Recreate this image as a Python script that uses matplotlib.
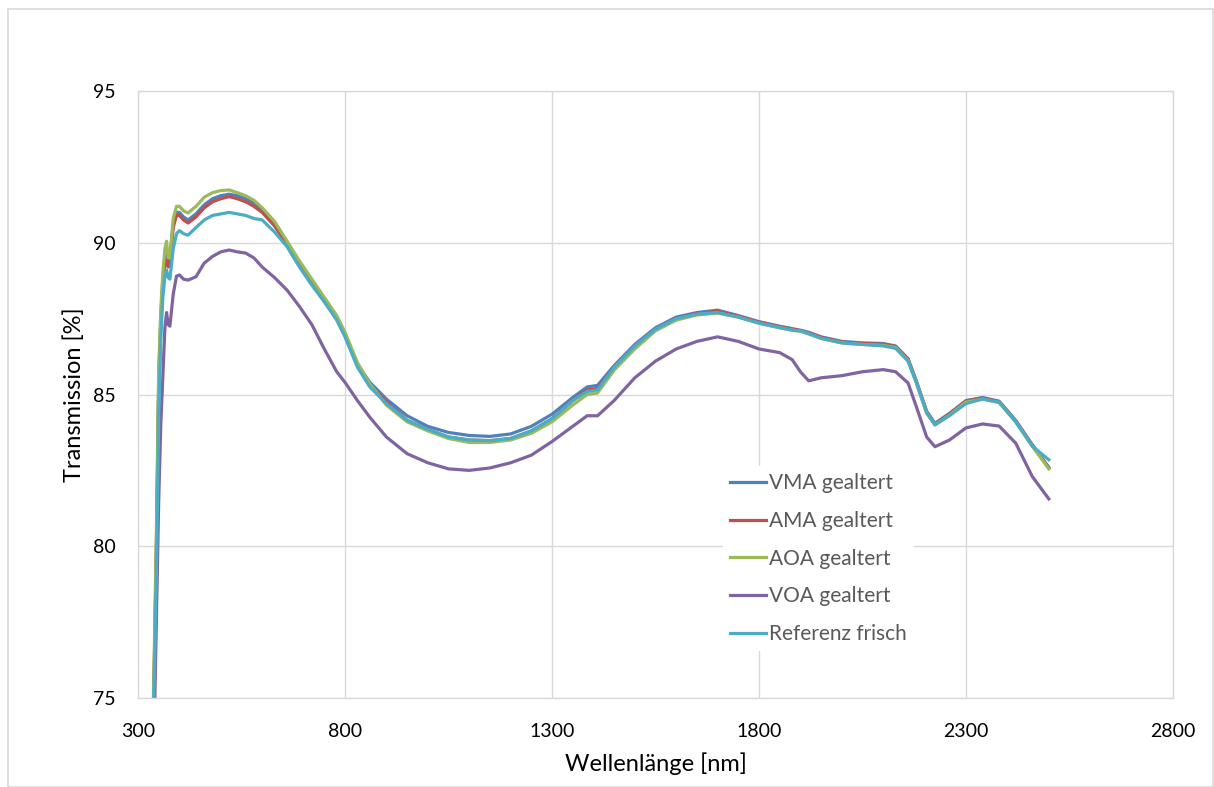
import matplotlib
matplotlib.use("Agg")
import matplotlib.pyplot as plt
from matplotlib.patches import Rectangle

wavelength = [335, 340, 345, 350, 355, 360, 365, 369, 373, 377, 385, 393, 400, 410, 421,
              440, 460, 480, 500, 520, 540, 560, 580, 600, 630, 660, 690, 720, 750, 780,
              800, 830, 860, 900, 950, 1000, 1050, 1100, 1150, 1200, 1250, 1300, 1350,
              1385, 1410, 1450, 1500, 1550, 1600, 1650, 1700, 1750, 1800, 1850, 1880,
              1900, 1920, 1950, 2000, 2050, 2100, 2130, 2160, 2180, 2205, 2225, 2260,
              2300, 2340, 2380, 2420, 2460, 2500]

vma = [73.0, 76.5, 80.5, 85.5, 87.5, 88.8, 89.6, 89.8, 89.4, 89.5, 90.6, 91.0, 91.0, 90.85, 90.75,
       90.95, 91.25, 91.45, 91.55, 91.6, 91.55, 91.45, 91.3, 91.1, 90.65, 90.0, 89.35, 88.75, 88.15, 87.55,
       87.0, 86.0, 85.4, 84.85, 84.3, 83.95, 83.75, 83.65, 83.62, 83.7, 83.95, 84.35, 84.9,
       85.25, 85.3, 85.95, 86.65, 87.2, 87.55, 87.7, 87.78, 87.6, 87.4, 87.25, 87.17,
       87.12, 87.05, 86.9, 86.75, 86.7, 86.68, 86.6, 86.18, 85.45, 84.45, 84.05, 84.38,
       84.8, 84.9, 84.78, 84.15, 83.35, 82.6]

ama = [73.0, 76.5, 80.3, 85.3, 87.3, 88.6, 89.3, 89.45, 89.2, 89.3, 90.5, 90.9, 90.9, 90.75, 90.65,
       90.85, 91.15, 91.35, 91.45, 91.52, 91.45, 91.35, 91.2, 91.0, 90.55, 89.95, 89.3, 88.7, 88.1, 87.5,
       86.95, 85.95, 85.3, 84.75, 84.15, 83.85, 83.6, 83.5, 83.48, 83.55, 83.8, 84.2, 84.8,
       85.15, 85.2, 85.9, 86.6, 87.15, 87.5, 87.67, 87.74, 87.58, 87.38, 87.23, 87.15,
       87.1, 87.03, 86.88, 86.73, 86.68, 86.66, 86.58, 86.16, 85.42, 84.42, 84.02, 84.35,
       84.78, 84.88, 84.76, 84.12, 83.32, 82.58]

aoa = [73.5, 77.0, 81.0, 85.8, 87.8, 89.0, 89.8, 90.05, 89.5, 89.5, 90.8, 91.2, 91.2, 91.05, 90.98,
       91.2, 91.5, 91.65, 91.72, 91.74, 91.65, 91.55, 91.4, 91.15, 90.7, 90.05, 89.4, 88.8, 88.2, 87.6,
       87.05, 86.05, 85.35, 84.65, 84.1, 83.8, 83.55, 83.42, 83.42, 83.5, 83.72, 84.1, 84.65,
       85.0, 85.05, 85.8, 86.5, 87.1, 87.45, 87.62, 87.68, 87.55, 87.35, 87.2, 87.12,
       87.08, 87.0, 86.85, 86.7, 86.65, 86.62, 86.55, 86.12, 85.38, 84.38, 84.0, 84.32,
       84.75, 84.85, 84.73, 84.1, 83.3, 82.55]

voa = [72.0, 74.5, 78.0, 81.5, 84.0, 85.6, 87.2, 87.7, 87.3, 87.25, 88.3, 88.9, 88.94, 88.8, 88.77,
       88.88, 89.33, 89.55, 89.7, 89.76, 89.7, 89.66, 89.5, 89.2, 88.85, 88.44, 87.9, 87.3, 86.5, 85.75,
       85.4, 84.8, 84.25, 83.6, 83.05, 82.75, 82.55, 82.5, 82.58, 82.75, 83.0, 83.45, 83.95,
       84.3, 84.3, 84.8, 85.55, 86.1, 86.5, 86.75, 86.9, 86.75, 86.5, 86.38, 86.15,
       85.75, 85.45, 85.55, 85.62, 85.75, 85.82, 85.75, 85.38, 84.6, 83.6, 83.28, 83.5,
       83.9, 84.03, 83.96, 83.4, 82.3, 81.56]

referenz = [73.5, 76.0, 79.5, 84.3, 86.8, 88.2, 88.9, 89.1, 88.85, 88.8, 89.8, 90.3, 90.4, 90.3, 90.25,
            90.5, 90.75, 90.9, 90.95, 91.0, 90.95, 90.9, 90.8, 90.75, 90.35, 89.87, 89.2, 88.6, 88.05, 87.45,
            86.9, 85.9, 85.25, 84.7, 84.15, 83.85, 83.6, 83.5, 83.48, 83.55, 83.8, 84.2, 84.8,
            85.1, 85.15, 85.9, 86.6, 87.15, 87.5, 87.65, 87.7, 87.55, 87.35, 87.2, 87.12,
            87.1, 87.0, 86.85, 86.7, 86.65, 86.6, 86.52, 86.1, 85.4, 84.4, 84.0, 84.3,
            84.7, 84.85, 84.75, 84.1, 83.3, 82.85]

series_names = ["VMA gealtert", "AMA gealtert", "AOA gealtert", "VOA gealtert", "Referenz frisch"]
series_values = [vma, ama, aoa, voa, referenz]
colors = ["#4F81BD", "#C0504D", "#9BBB59", "#8064A2", "#4BACC6"]

x_ticks = [300, 800, 1300, 1800, 2300, 2800]
y_ticks = [75, 80, 85, 90, 95]

plt.rcParams['font.family'] = ['Lato', 'DejaVu Sans']

fig = plt.figure(figsize=(12.14, 7.87), dpi=100)
ax = fig.add_axes([138/1214, 1 - 698/787, (1173-138)/1214, (698-91)/787])

for name, vals, c in zip(series_names, series_values, colors):
    ax.plot(wavelength, vals, color=c, lw=2.3, label=name, solid_joinstyle='round')

ax.set_xlim(300, 2800)
ax.set_ylim(75, 95)
ax.set_xticks(x_ticks)
ax.set_yticks(y_ticks)
ax.grid(True, color="#d9d9d9", lw=1.0)
ax.set_axisbelow(True)
for s in ax.spines.values():
    s.set_color("#d9d9d9")
    s.set_linewidth(1.0)
ax.tick_params(axis='x', length=0, labelsize=14, colors="#000000", pad=18)
ax.tick_params(axis='y', length=0, labelsize=14, colors="#000000", pad=16)
ax.set_xlabel("Wellenlänge [nm]", fontsize=17, color="#000000", labelpad=9)
ax.set_ylabel("Transmission [%]", fontsize=17, color="#000000", labelpad=6)

leg = ax.legend(loc="upper left", bbox_to_anchor=((723-138)/(1173-138), (698-466)/(698-91)),
                frameon=True, fontsize=15, handlelength=1.7, handletextpad=0.15,
                labelspacing=0.85, borderpad=0.35, borderaxespad=0)
leg.get_frame().set_facecolor("white")
leg.get_frame().set_edgecolor("none")
leg.get_frame().set_alpha(1.0)
for t in leg.get_texts():
    t.set_color("#595959")

fig.patches.append(Rectangle((8/1214, 0), 1 - 9/1214, 1 - 9/787, transform=fig.transFigure,
                             fill=False, edgecolor="#d9d9d9", lw=1.2))

fig.savefig("out.png", dpi=100)
